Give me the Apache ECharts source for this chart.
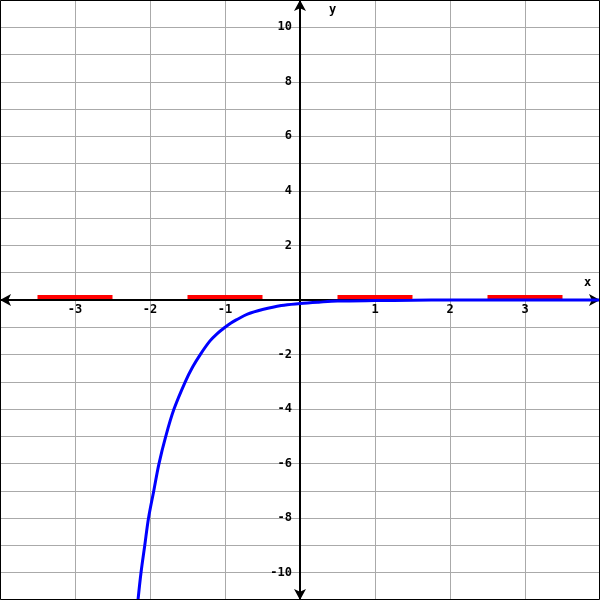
<!DOCTYPE html>
<html>
<head>
<meta charset="utf-8">
<script src="https://cdn.jsdelivr.net/npm/echarts@6/dist/echarts.min.js"></script>
<style>html,body{margin:0;padding:0;background:#fff}#c{width:600px;height:600px}</style>
</head>
<body>
<div id="c"></div>
<script>
// Tick labels shown
const xTickLabels = [-3, -2, -1, 1, 2, 3];
const yTickLabels = [-10, -8, -6, -4, -2, 2, 4, 6, 8, 10];
// Blue curve
const curveX = [-2.16, -2.12, -2.07, -2.02, -1.95, -1.88, -1.79, -1.68, -1.53, -1.43, -1.33, -1.2, -1.1, -1.0, -0.92, -0.85, -0.7, -0.5, -0.25, 0, 0.25, 0.5, 1, 1.5, 2, 3, 4];
const curveY = [-11, -10, -9, -8, -7, -6, -5, -4, -3, -2.45, -2, -1.5, -1.22, -1.0, -0.84, -0.73, -0.52, -0.35, -0.2, -0.13, -0.08, -0.04, -0.02, -0.01, 0, 0, 0];
// Red segments
const redStarts = [-3.5, -1.5, 0.5, 2.5];
const redEnds = [-2.5, -0.5, 1.5, 3.5];
const redY = 0.11;

const curveData = curveX.map((x, i) => [x, curveY[i]]);
const redData = [];
redStarts.forEach((s, i) => {
  redData.push([s, redY], [redEnds[i], redY], [redEnds[i], '-']);
});

const font = {fontFamily: 'DejaVu Sans Mono', fontWeight: 'bold', fontSize: 12, color: '#000'};
const chart = echarts.init(document.getElementById('c'), null, {renderer: 'canvas'});
chart.setOption({
  animation: false,
  grid: {left: 0, right: 0, top: 0, bottom: 0, containLabel: false, outerBoundsMode: 'none'},
  xAxis: {
    type: 'value', min: -4, max: 4, interval: 1, position: 'bottom', offset: -300,
    axisLine: {onZero: false, lineStyle: {color: '#000', width: 2}, symbol: ['arrow', 'arrow'], symbolSize: [9, 11]},
    axisTick: {show: false},
    splitLine: {show: true, lineStyle: {color: '#aaa', width: 1}},
    axisLabel: Object.assign({margin: 4, formatter: v => xTickLabels.includes(v) ? String(v) : ''}, font)
  },
  yAxis: {
    type: 'value', min: -11, max: 11, interval: 1, position: 'left', offset: -300,
    axisLine: {onZero: false, lineStyle: {color: '#000', width: 2}, symbol: ['arrow', 'arrow'], symbolSize: [9, 11]},
    axisTick: {show: false},
    splitLine: {show: true, lineStyle: {color: '#aaa', width: 1}},
    axisLabel: Object.assign({margin: 8, formatter: v => yTickLabels.includes(v) ? String(v) : ''}, font)
  },
  series: [
    {type: 'line', data: redData, symbol: 'none', connectNulls: false,
     lineStyle: {color: '#ff0000', width: 4, cap: 'butt'}},
    {type: 'line', data: curveData, symbol: 'none', smooth: 0.35,
     lineStyle: {color: '#0000ff', width: 3}}
  ],
  graphic: [
    {type: 'text', left: 584, top: 277, style: {text: 'x', fill: '#000', font: 'bold 12px "DejaVu Sans Mono"'}},
    {type: 'text', left: 329, top: 4, style: {text: 'y', fill: '#000', font: 'bold 12px "DejaVu Sans Mono"'}},
    {type: 'rect', shape: {x: 0.5, y: 0.5, width: 599, height: 599}, style: {fill: 'none', stroke: '#000', lineWidth: 1}, z: 100}
  ]
});
</script>
</body>
</html>
